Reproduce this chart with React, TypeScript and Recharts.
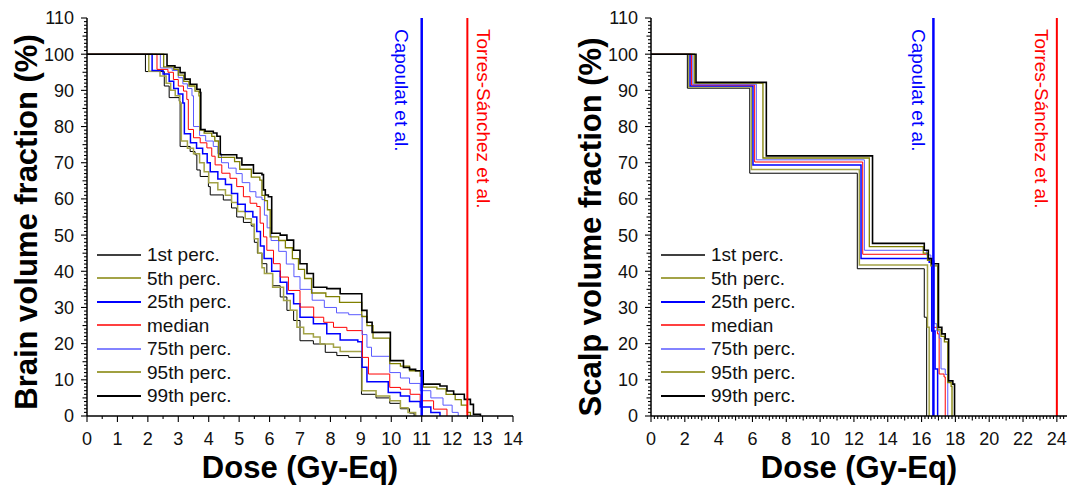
import React from 'react';
import { LineChart, Line, XAxis, YAxis, ReferenceLine, Legend } from 'recharts';

type Pt = [number, number];

const seriesNames = ['1st perc.', '5th perc.', '25th perc.', 'median', '75th perc.', '95th perc.', '99th perc.'];

// Brain DVH percentiles: [dose Gy-Eq, volume %]
const brainP1: Pt[] = [[0,100],[1.91,100],[1.92,95.2],[2.54,91.2],[2.7,88],[3.03,87],[3.06,74.5],[3.39,73.1],[3.55,72.2],[3.61,68],[3.72,66.2],[3.99,63.4],[4.05,61.1],[4.48,59.7],[4.75,57.5],[4.92,55],[5.14,53.5],[5.4,52.5],[5.5,48],[5.6,45],[5.75,42.1],[5.91,39.4],[6.1,36],[6.35,32.9],[6.57,29.2],[6.79,26.4],[7.0,20.8],[7.44,19.9],[7.83,17.6],[8.21,16.7],[8.6,16.2],[9.02,6],[9.5,5],[9.95,3.5],[10.3,2],[10.6,0.8],[10.75,0]];
const brainP5: Pt[] = [[0,100],[2.02,100],[2.03,95.3],[2.4,94],[2.6,92],[2.75,90],[2.9,88.5],[3.05,86.5],[3.1,76],[3.3,74],[3.5,72.5],[3.7,70],[3.85,67.5],[4.0,64.5],[4.3,62.5],[4.55,61],[4.75,59],[4.95,56.5],[5.2,54.5],[5.4,53],[5.5,49],[5.62,45],[5.75,41],[5.83,39.4],[6.1,35.6],[6.46,31.9],[6.68,29.2],[6.9,24.5],[7.12,22.7],[7.44,21.8],[7.66,19.9],[8.1,19],[8.32,17.8],[9.04,7],[9.5,5.5],[9.95,4.2],[10.3,2.3],[10.55,1],[10.8,0]];
const brainP25: Pt[] = [[0,100],[2.13,100],[2.14,95.5],[2.5,94.5],[2.7,92.5],[2.85,90.5],[3.0,89],[3.15,86.5],[3.2,78],[3.4,75.5],[3.6,74],[3.8,72.5],[3.95,70],[4.05,67.5],[4.3,65.5],[4.55,64],[4.75,61.5],[4.95,58.5],[5.2,56.5],[5.45,55],[5.58,51],[5.7,47],[5.82,43.5],[6.07,40],[6.35,37],[6.57,33.8],[6.79,31],[7.0,27.3],[7.44,25.5],[7.88,22.7],[8.32,21],[8.9,20.5],[9.04,13.5],[9.2,9.5],[9.9,6.5],[10.3,5.5],[10.6,4],[10.95,2.5],[11.3,1],[11.6,0]];
const brainMedian: Pt[] = [[0,100],[2.29,100],[2.3,95.8],[2.66,95],[2.84,93],[3.0,91.2],[3.17,89.8],[3.28,87.5],[3.33,79.2],[3.5,76.9],[3.72,75.5],[3.94,74.1],[4.1,71.8],[4.21,69.4],[4.43,67.1],[4.7,65.7],[4.92,63.4],[5.14,60.6],[5.36,58.8],[5.58,57.9],[5.69,53.3],[5.8,49.5],[5.91,45.8],[6.13,42.1],[6.35,38.4],[6.62,34.7],[7.0,30.1],[7.45,27.3],[7.78,25.9],[8.1,24.5],[8.54,23.6],[9.05,16.2],[9.25,11.6],[9.95,7.9],[10.3,7.4],[10.62,6.0],[10.95,4.2],[11.39,1.9],[11.83,0]];
const brainP75: Pt[] = [[0,100],[2.4,100],[2.41,96.2],[2.8,95.5],[3.0,93.5],[3.15,91.8],[3.3,90.5],[3.45,88.5],[3.5,80],[3.7,77.5],[3.9,76],[4.15,74.5],[4.3,72.5],[4.42,70],[4.65,68.5],[4.9,67],[5.1,64.5],[5.35,62],[5.55,60.5],[5.75,59.8],[5.83,55.5],[5.92,52],[6.05,48.5],[6.3,45.5],[6.55,42],[6.8,38.5],[7.0,35],[7.4,32],[7.8,30],[8.2,28.5],[8.6,28],[9.04,22.5],[9.2,19],[9.35,16.5],[9.95,12],[10.3,10.5],[10.6,9],[10.95,7],[11.3,5],[11.7,3],[12.0,1],[12.2,0]];
const brainP95: Pt[] = [[0,100],[2.51,100],[2.52,96.5],[2.85,95.8],[3.0,94.2],[3.18,92.5],[3.35,91.2],[3.55,89.8],[3.68,88.5],[3.71,79],[3.85,78.2],[4.1,77.3],[4.2,76],[4.32,71.5],[4.85,70.3],[5.02,68.2],[5.4,66],[5.68,65.2],[5.75,61],[5.84,59.5],[5.93,57],[6.02,49.5],[6.3,48.5],[6.52,46.5],[6.75,43.5],[6.95,40.5],[7.15,38],[7.38,34],[7.85,33],[8.3,31.4],[9.03,27.5],[9.2,25],[9.4,21.5],[9.95,14.5],[10.3,13.8],[10.6,12.5],[10.95,11],[11.05,8],[11.5,7.5],[11.8,6],[12.1,4.5],[12.3,3],[12.5,1],[12.6,0]];
const brainP99: Pt[] = [[0,100],[2.62,100],[2.63,96.8],[2.89,96.3],[3.06,94.9],[3.22,93.1],[3.39,91.7],[3.61,90.3],[3.72,89.4],[3.74,79.2],[3.88,78.7],[4.15,78.2],[4.27,77.3],[4.38,72.2],[4.92,71.3],[5.09,69.4],[5.47,67.1],[5.75,66.7],[5.8,62.5],[5.86,61.1],[5.96,60.6],[6.07,50.5],[6.35,50],[6.57,48.6],[6.79,45.8],[7.0,42.1],[7.23,39.4],[7.44,35.6],[7.88,35.2],[8.32,33.8],[9.03,29.2],[9.2,25.9],[9.37,23.1],[9.97,15.3],[10.4,13.4],[10.6,12.9],[10.8,12.5],[11.05,8.8],[11.6,8.3],[11.83,6.9],[12.05,6.0],[12.4,4.6],[12.6,3.2],[12.7,0.5],[12.93,0]];

// Scalp DVH percentiles: [dose Gy-Eq, volume %]
const scalpP1: Pt[] = [[0,100],[2.14,100],[2.15,90.6],[5.84,67.1],[12.2,40.7],[16.16,27.3],[16.3,0]];
const scalpP5: Pt[] = [[0,100],[2.22,100],[2.23,90.9],[5.94,68.1],[12.32,41.7],[16.35,24.5],[16.45,0]];
const scalpP25: Pt[] = [[0,100],[2.3,100],[2.31,91.2],[6.03,69.4],[12.42,43.5],[16.45,42.5],[16.6,23.5],[16.8,13],[16.95,0]];
const scalpMedian: Pt[] = [[0,100],[2.38,100],[2.39,91.5],[6.13,70.2],[12.52,44.7],[16.4,43.5],[16.7,24.5],[16.94,22.7],[17.04,11.6],[17.33,10.8],[17.4,0]];
const scalpP75: Pt[] = [[0,100],[2.46,100],[2.47,91.7],[6.23,70.8],[12.62,45.8],[16.3,44.5],[16.55,43],[16.75,25.5],[16.9,23.5],[17.05,21.5],[17.15,13],[17.4,11.5],[17.55,0]];
const scalpP95: Pt[] = [[0,100],[2.55,100],[2.56,92.0],[6.62,71.3],[12.91,46.8],[16.1,45],[16.35,43],[16.55,41.5],[16.95,23.8],[17.15,22],[17.35,20.5],[17.55,9.2],[17.75,8.2],[17.8,0]];
const scalpP99: Pt[] = [[0,100],[2.65,100],[2.66,92.2],[6.82,71.9],[13.1,47.7],[16.16,45.8],[16.4,43.5],[16.6,42.1],[17.0,24.5],[17.2,22.7],[17.4,21.3],[17.6,9.7],[17.85,8.8],[17.95,0]];

const brainSeries = [brainP1, brainP5, brainP25, brainMedian, brainP75, brainP95, brainP99];
const scalpSeries = [scalpP1, scalpP5, scalpP25, scalpMedian, scalpP75, scalpP95, scalpP99];

// reference doses
const brainCapoulat = 11;
const brainTorres = 12.5;
const scalpCapoulat = 16.7;
const scalpTorres = 24;

const yTicks = Array.from({ length: 111 }, (_, i) => i);
const brainXTicks = Array.from({ length: 29 }, (_, i) => i * 0.5);
const scalpXTicks = Array.from({ length: 123 }, (_, i) => Math.round(i * 2) / 10);

const lineStyles = [
  { stroke: '#000000', w: 1 },
  { stroke: '#a3a347', w: 1.5 },
  { stroke: '#0000ff', w: 1.5 },
  { stroke: '#ff0000', w: 1 },
  { stroke: '#5a5aff', w: 1 },
  { stroke: '#808000', w: 1.3 },
  { stroke: '#000000', w: 1.6 },
];

const FONT = '"Liberation Sans", Arial, Helvetica, sans-serif';
const toObjs = (pts: Pt[]) => pts.map(([x, y]) => ({ x, y }));

function axisTick(side: 'left' | 'right' | 'top' | 'bottom', majorStep: number, midStep: number | null, showLabel: boolean) {
  return (props: any) => {
    const { x, y, payload } = props;
    const v = payload.value as number;
    const isMult = (s: number) => Math.abs(v / s - Math.round(v / s)) < 1e-6;
    const major = isMult(majorStep);
    const mid = !major && midStep != null && isMult(midStep);
    const len = major ? 6 : mid ? 4.5 : 3;
    let l: any;
    if (side === 'left') l = { x1: x - len, y1: y, x2: x, y2: y };
    else if (side === 'right') l = { x1: x - len, y1: y, x2: x, y2: y };
    else l = { x1: x, y1: y, x2: x, y2: y + len };
    let label: any = null;
    if (showLabel && major) {
      const txt = String(Math.round(v));
      label = side === 'left'
        ? <text x={x - 13} y={y} dy="0.36em" textAnchor="end" fontSize={18} fontFamily={FONT} fill="#111">{txt}</text>
        : <text x={x} y={y + 29} textAnchor="middle" fontSize={18} fontFamily={FONT} fill="#111">{txt}</text>;
    }
    return (
      <g>
        <line {...l} stroke="#000" strokeWidth={1.1} />
        {label}
      </g>
    );
  };
}

const vLabel = (text: string, color: string, dx: number) => (props: any) => {
  const vb = props.viewBox || {};
  const x = (vb.x ?? 0) + dx;
  const y = (vb.y ?? 0) + 11;
  return (
    <text x={x} y={y} transform={`rotate(90 ${x} ${y})`} fill={color} fontSize={19} fontFamily={FONT}>{text}</text>
  );
};

const yTitle = (text: string, dy: number) => (props: any) => {
  const vb = props.viewBox || {};
  const cx = (vb.x ?? 0) + 36.5;
  const cy = (vb.y ?? 0) + (vb.height ?? 0) / 2 + dy;
  return (
    <text x={cx} y={cy} transform={`rotate(-90 ${cx} ${cy})`} textAnchor="middle" fontSize={31} fontWeight="bold" fontFamily={FONT} fill="#000">{text}</text>
  );
};

const xTitle = (text: string) => (props: any) => {
  const vb = props.viewBox || {};
  const cx = (vb.x ?? 0) + (vb.width ?? 0) / 2;
  const cy = (vb.y ?? 0) + 62;
  return (
    <text x={cx} y={cy} textAnchor="middle" fontSize={31} fontWeight="bold" fontFamily={FONT} fill="#000">{text}</text>
  );
};

const legendContent = () => (
  <div style={{ fontFamily: FONT, fontSize: 19, color: '#111' }}>
    {seriesNames.map((n, i) => (
      <div key={n} style={{ display: 'flex', alignItems: 'center', height: 23.5 }}>
        <svg width={44} height={6} style={{ display: 'block' }}>
          <line x1={0} y1={3} x2={44} y2={3} stroke={lineStyles[i].stroke} strokeWidth={lineStyles[i].w + 0.3} />
        </svg>
        <span style={{ marginLeft: 6, lineHeight: '23.5px', whiteSpace: 'nowrap' }}>{n}</span>
      </div>
    ))}
  </div>
);

interface PanelProps {
  left: number;
  width: number;
  rightMargin: number;
  xMax: number;
  xTicks: number[];
  xMajor: number;
  xMid: number | null;
  series: Pt[][];
  yLabel: string;
  yLabelDy: number;
  capoulat: number;
  torres: number;
  capDx: number;
  torDx: number;
}

function Panel(p: PanelProps) {
  return (
    <div style={{ position: 'absolute', left: p.left, top: 0 }}>
      <LineChart width={p.width} height={487} margin={{ top: 18, right: p.rightMargin, bottom: 0, left: 0 }}>
        <XAxis
          dataKey="x"
          type="number"
          domain={[0, p.xMax]}
          ticks={p.xTicks}
          interval={0}
          allowDataOverflow
          height={71}
          tickSize={0}
          tickMargin={0}
          tickLine={false}
          axisLine={{ stroke: '#000', strokeWidth: 1.5 }}
          tick={axisTick('bottom', p.xMajor, p.xMid, true)}
          label={xTitle('Dose (Gy-Eq)')}
        />
        <XAxis
          xAxisId="top"
          orientation="top"
          mirror
          type="number"
          domain={[0, p.xMax]}
          ticks={p.xTicks}
          interval={0}
          allowDataOverflow
          height={0}
          tickSize={0}
          tickMargin={0}
          tickLine={false}
          axisLine={{ stroke: '#000', strokeWidth: 1.5 }}
          tick={axisTick('top', p.xMajor, p.xMid, false)}
        />
        <YAxis
          type="number"
          domain={[0, 110]}
          ticks={yTicks}
          interval={0}
          allowDataOverflow
          width={87}
          tickSize={0}
          tickMargin={0}
          tickLine={false}
          axisLine={{ stroke: '#000', strokeWidth: 1.5 }}
          tick={axisTick('left', 10, 5, true)}
          label={yTitle(p.yLabel, p.yLabelDy)}
        />
        <YAxis
          yAxisId="right"
          orientation="right"
          mirror
          type="number"
          domain={[0, 110]}
          ticks={yTicks}
          interval={0}
          allowDataOverflow
          width={0}
          tickSize={0}
          tickMargin={0}
          tickLine={false}
          axisLine={{ stroke: '#000', strokeWidth: 1.5 }}
          tick={axisTick('right', 10, 5, false)}
        />
        {p.series.map((s, i) => (
          <Line
            key={seriesNames[i]}
            data={toObjs(s)}
            dataKey="y"
            name={seriesNames[i]}
            type="stepAfter"
            stroke={lineStyles[i].stroke}
            strokeWidth={lineStyles[i].w}
            dot={false}
            activeDot={false}
            isAnimationActive={false}
          />
        ))}
        <ReferenceLine x={p.capoulat} stroke="#0000ff" strokeWidth={2.5} label={vLabel('Capoulat et al.', '#0000ff', p.capDx)} />
        <ReferenceLine x={p.torres} stroke="#ff0000" strokeWidth={2} label={vLabel('Torres-Sánchez et al.', '#ff0000', p.torDx)} />
        <Legend
          layout="vertical"
          align="center"
          verticalAlign="middle"
          content={legendContent}
          wrapperStyle={{ position: 'absolute', left: 97, top: 243, width: 200, height: 170 }}
        />
      </LineChart>
    </div>
  );
}

export default function App() {
  return (
    <div style={{ position: 'absolute', left: 0, top: 0, width: 1067, height: 487, background: '#fff' }}>
      <Panel
        left={0}
        width={530}
        rightMargin={17}
        xMax={14}
        xTicks={brainXTicks}
        xMajor={1}
        xMid={null}
        series={brainSeries}
        yLabel="Brain volume fraction (%)"
        yLabelDy={5}
        capoulat={brainCapoulat}
        torres={brainTorres}
        capDx={-27}
        torDx={10}
      />
      <Panel
        left={564}
        width={503}
        rightMargin={0}
        xMax={24.6}
        xTicks={scalpXTicks}
        xMajor={2}
        xMid={1}
        series={scalpSeries}
        yLabel="Scalp volume fraction (%)"
        yLabelDy={10}
        capoulat={scalpCapoulat}
        torres={scalpTorres}
        capDx={-21}
        torDx={-22}
      />
    </div>
  );
}
